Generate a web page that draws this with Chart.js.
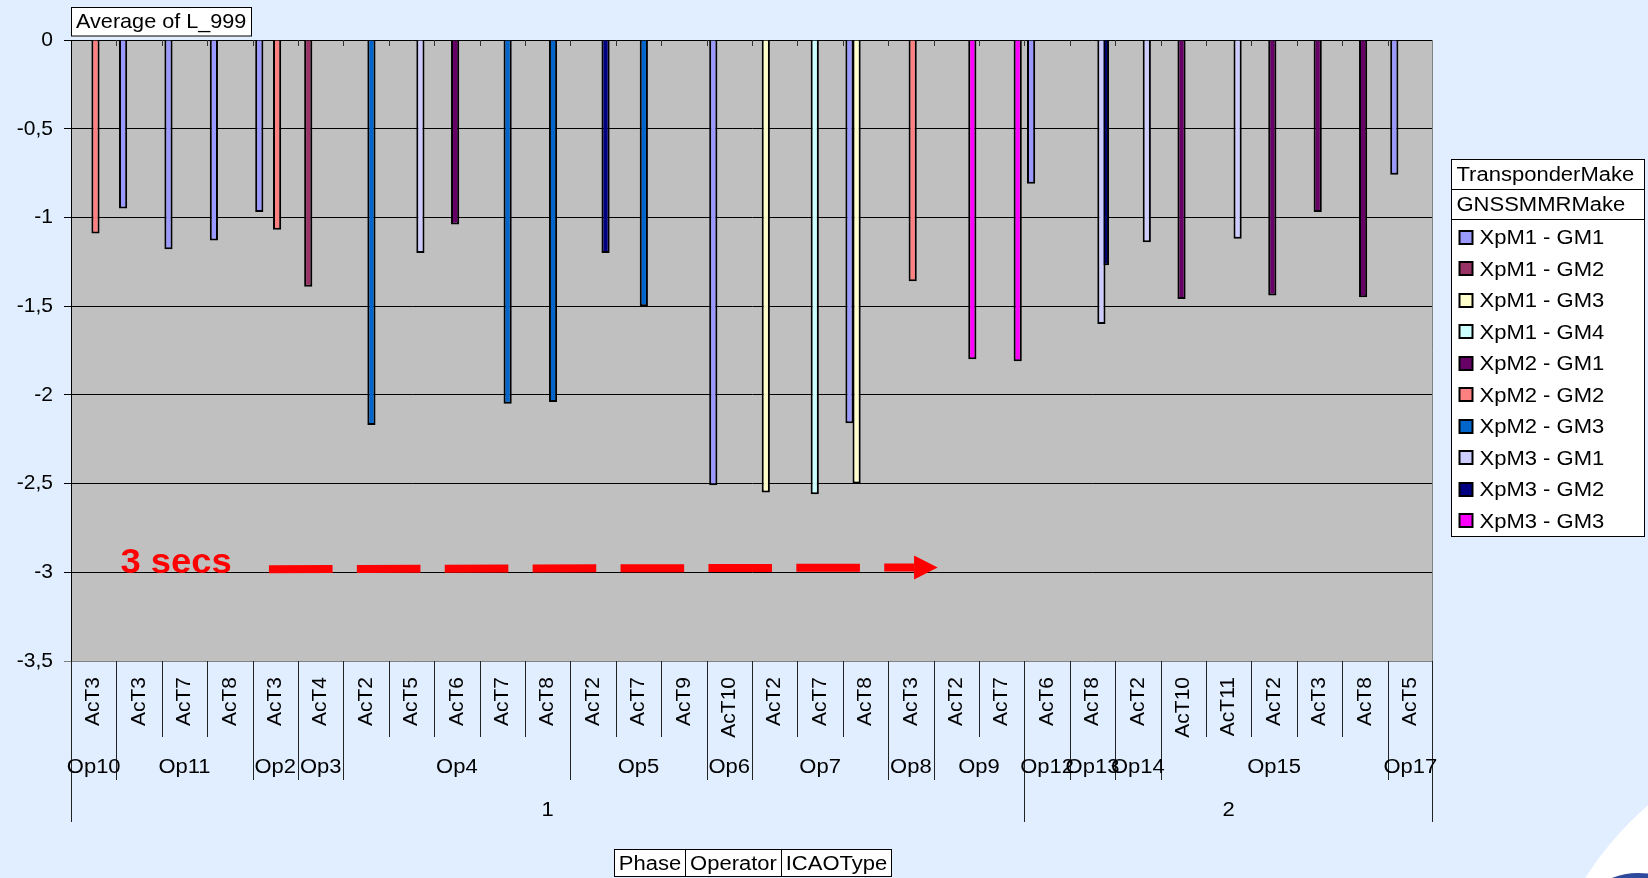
<!DOCTYPE html>
<html>
<head>
<meta charset="utf-8">
<script src="https://cdn.jsdelivr.net/npm/chart.js@4.4.1/dist/chart.umd.min.js"></script>
<style>
  html, body { margin: 0; padding: 0; background: #E0EEFF; overflow: hidden; }
  #wrap { position: relative; width: 1648px; height: 878px; overflow: hidden; }
  #swoosh { position: absolute; left: 1532px; top: 722px; width: 676px; height: 676px; border-radius: 50%; background: #FFFFFF; }
  #logo { position: absolute; left: 1603px; top: 873px; width: 70px; height: 30px; border-radius: 50% 50% 0 0; background: #2D4A9C; }
  canvas { position: absolute; left: 0; top: 0; }
</style>
</head>
<body>
<div id="wrap">
  <div id="swoosh"></div>
  <div id="logo"></div>
  <canvas id="c" width="1648" height="878"></canvas>
</div>
<script>
// ---------------- DATA ----------------
const phases = ['1','1','1','1','1','1','1','1','1','1','1','1','1','1','1','1','1','1','1','1','1',
                '2','2','2','2','2','2','2','2','2'];
const operators = ['Op10','Op11','Op11','Op11','Op2','Op3','Op4','Op4','Op4','Op4','Op4','Op5','Op5','Op5','Op6',
                   'Op7','Op7','Op7','Op8','Op9','Op9','Op12','Op13','Op14','Op15','Op15','Op15','Op15','Op15','Op17'];
const icaoTypes = ['AcT3','AcT3','AcT7','AcT8','AcT3','AcT4','AcT2','AcT5','AcT6','AcT7','AcT8','AcT2','AcT7','AcT9','AcT10',
                   'AcT2','AcT7','AcT8','AcT3','AcT2','AcT7','AcT6','AcT8','AcT2','AcT10','AcT11','AcT2','AcT3','AcT8','AcT5'];

const seriesNames = ['XpM1 - GM1','XpM1 - GM2','XpM1 - GM3','XpM1 - GM4','XpM2 - GM1',
                     'XpM2 - GM2','XpM2 - GM3','XpM3 - GM1','XpM3 - GM2','XpM3 - GM3'];
const seriesColors = ['#9999FF','#993366','#FFFFCC','#CCFFFF','#660066',
                      '#FF8080','#0066CC','#CCCCFF','#000080','#FF00FF'];

//                 0     1      2      3      4      5     6     7     8     9     10    11    12    13    14     15     16     17     18     19     20     21     22     23     24     25     26     27     28     29
const xpm1_gm1 = [null, -0.95, -1.18, -1.13, -0.97, null, null, null, null, null, null, null, null, null, -2.51, null,  null,  -2.16, null,  null,  null,  -0.81, null,  null,  null,  null,  null,  null,  null,  -0.76];
const xpm1_gm2 = [null, null,  null,  null,  null, -1.39, null, null, null, null, null, null, null, null, null,  null,  null,  null,  null,  null,  null,  null,  null,  null,  null,  null,  null,  null,  null,  null];
const xpm1_gm3 = [null, null,  null,  null,  null,  null, null, null, null, null, null, null, null, null, null,  -2.55, null,  -2.50, null,  null,  null,  null,  null,  null,  null,  null,  null,  null,  null,  null];
const xpm1_gm4 = [null, null,  null,  null,  null,  null, null, null, null, null, null, null, null, null, null,  null,  -2.56, null,  null,  null,  null,  null,  null,  null,  null,  null,  null,  null,  null,  null];
const xpm2_gm1 = [null, null,  null,  null,  null,  null, null, null, -1.04, null, null, null, null, null, null, null,  null,  null,  null,  null,  null,  null,  null,  null,  -1.46, null,  -1.44, -0.97, -1.45, null];
const xpm2_gm2 = [-1.09, null, null,  null,  -1.07, null, null, null, null, null, null, null, null, null, null,  null,  null,  null,  -1.36, null,  null,  null,  null,  null,  null,  null,  null,  null,  null,  null];
const xpm2_gm3 = [null, null,  null,  null,  null,  null, -2.17, null, null, -2.05, -2.04, null, -1.50, null, null, null, null,  null,  null,  null,  null,  null,  null,  null,  null,  null,  null,  null,  null,  null];
const xpm3_gm1 = [null, null,  null,  null,  null,  null, null, -1.20, null, null, null, null, null, null, null,  null,  null,  null,  null,  null,  null,  null,  -1.60, -1.14, null,  -1.12, null,  null,  null,  null];
const xpm3_gm2 = [null, null,  null,  null,  null,  null, null, null, null, null, null, -1.20, null, null, null, null,  null,  null,  null,  null,  null,  null,  -1.27, null,  null,  null,  null,  null,  null,  null];
const xpm3_gm3 = [null, null,  null,  null,  null,  null, null, null, null, null, null, null, null, null, null,  null,  null,  null,  null,  -1.80, -1.81, null,  null,  null,  null,  null,  null,  null,  null,  null];

const seriesValues = [xpm1_gm1, xpm1_gm2, xpm1_gm3, xpm1_gm4, xpm2_gm1, xpm2_gm2, xpm2_gm3, xpm3_gm1, xpm3_gm2, xpm3_gm3];

const yMin = -3.5, yMax = 0, yStep = 0.5;
const valueTitle = 'Average of L_999';
const legendHeaders = ['TransponderMake', 'GNSSMMRMake'];
const axisFields = ['Phase', 'Operator', 'ICAOType'];
const thresholdText = '3 secs';
const thresholdValue = -3;

// ---------------- CHART ----------------
const FONT = "'Liberation Sans', Arial, sans-serif";
const SX = 1.1; // horizontal stretch of the original rendering
Chart.defaults.font.family = FONT;
Chart.defaults.color = '#000';

const datasets = seriesNames.map((name, i) => ({
  label: name,
  data: seriesValues[i],
  backgroundColor: seriesColors[i],
  borderColor: '#000',
  borderWidth: 2,
  borderSkipped: 'start'
}));

const plotBg = {
  id: 'plotBg',
  beforeDraw(chart) {
    const { ctx, chartArea: a } = chart;
    ctx.save();
    ctx.fillStyle = '#C0C0C0';
    ctx.fillRect(a.left, a.top, a.right - a.left, a.bottom - a.top);
    ctx.restore();
  }
};

function sText(ctx, text, x, y, align, sx) {
  ctx.save();
  ctx.translate(x, y);
  ctx.scale(sx || SX, 1);
  ctx.textAlign = align;
  ctx.fillText(text, 0, 0);
  ctx.restore();
}
function sWidth(ctx, text, sx) { return ctx.measureText(text).width * (sx || SX); }

function whiteBox(ctx, x, y, w, h) {
  ctx.fillStyle = '#FFFFFF';
  ctx.fillRect(x, y, w, h);
  ctx.strokeStyle = '#000';
  ctx.lineWidth = 1;
  ctx.strokeRect(x, y, w, h);
}

const decorations = {
  id: 'decorations',
  afterDatasetsDraw(chart) {
    const { ctx, scales: { x, y } } = chart;
    ctx.save();
    const x0 = x.getPixelForValue(3.86), x1 = x.getPixelForValue(18.07), xt = x.getPixelForValue(18.59);
    const y0 = y.getPixelForValue(thresholdValue + 0.017), y1 = y.getPixelForValue(thresholdValue + 0.027);
    ctx.strokeStyle = '#FF0000';
    ctx.fillStyle = '#FF0000';
    ctx.lineWidth = 8;
    ctx.lineCap = 'butt';
    ctx.setLineDash([63.6, 24.3]);
    ctx.beginPath();
    ctx.moveTo(x0, y0);
    ctx.lineTo(x1, y1);
    ctx.stroke();
    ctx.setLineDash([]);
    ctx.beginPath();
    ctx.moveTo(x1, y1 - 12);
    ctx.lineTo(xt, y1);
    ctx.lineTo(x1, y1 + 12);
    ctx.closePath();
    ctx.fill();
    ctx.font = 'bold 35px ' + FONT;
    ctx.textBaseline = 'alphabetic';
    sText(ctx, thresholdText, x.getPixelForValue(0.59), y.getPixelForValue(thresholdValue) + 1, 'left', 1.04);
    ctx.restore();
  },
  afterDraw(chart) {
    const { ctx, chartArea: a, scales: { x, y } } = chart;
    const n = icaoTypes.length;
    const bx = k => Math.round(x.getPixelForValue(k - 0.5)) + 0.5;
    ctx.save();
    // right border of plot
    ctx.strokeStyle = '#808080';
    ctx.lineWidth = 1;
    ctx.beginPath();
    ctx.moveTo(Math.round(a.right) - 0.5, a.top);
    ctx.lineTo(Math.round(a.right) - 0.5, a.bottom);
    ctx.stroke();
    // category tick marks on the axis at value 0
    const y0 = Math.round(y.getPixelForValue(0));
    ctx.strokeStyle = '#333';
    ctx.beginPath();
    for (let k = 1; k < n; k++) {
      ctx.moveTo(bx(k), y0);
      ctx.lineTo(bx(k), y0 + 6);
    }
    ctx.stroke();
    // multi-level separators
    const bottom = a.bottom;
    ctx.strokeStyle = '#222';
    ctx.beginPath();
    for (let k = 0; k <= n; k++) {
      const phaseBreak = k === 0 || k === n || phases[k] !== phases[k - 1];
      const opBreak = phaseBreak || operators[k] !== operators[k - 1];
      const len = phaseBreak ? 161 : (opBreak ? 119 : 76);
      const px = k === n ? Math.round(a.right) - 0.5 : bx(k);
      ctx.moveTo(px, bottom);
      ctx.lineTo(px, bottom + len);
    }
    ctx.stroke();
    // operator labels
    ctx.fillStyle = '#000';
    ctx.font = '20px ' + FONT;
    ctx.textBaseline = 'middle';
    let s = 0;
    for (let k = 1; k <= n; k++) {
      if (k === n || operators[k] !== operators[s] || phases[k] !== phases[s]) {
        const cx = (x.getPixelForValue(s - 0.5) + x.getPixelForValue(k - 0.5)) / 2;
        sText(ctx, operators[s], cx, bottom + 106, 'center');
        s = k;
      }
    }
    // phase labels
    s = 0;
    for (let k = 1; k <= n; k++) {
      if (k === n || phases[k] !== phases[s]) {
        const cx = (x.getPixelForValue(s - 0.5) + x.getPixelForValue(k - 0.5)) / 2;
        sText(ctx, phases[s], cx, bottom + 149, 'center');
        s = k;
      }
    }
    // value field title box
    ctx.font = '21px ' + FONT;
    const tw = sWidth(ctx, valueTitle, 1.03);
    whiteBox(ctx, Math.round(a.left) + 0.5, 7.5, Math.round(tw + 10), 28.5);
    ctx.fillStyle = '#000';
    sText(ctx, valueTitle, a.left + 5, 22.5, 'left', 1.03);
    ctx.font = '20px ' + FONT;
    // axis field buttons
    const widths = axisFields.map(t => Math.round(sWidth(ctx, t) + 9));
    const total = widths.reduce((p, c) => p + c, 0);
    let fx = Math.round((a.left + a.right) / 2 - total / 2) + 0.5;
    axisFields.forEach((t, i) => {
      whiteBox(ctx, fx, 849.5, widths[i], 27);
      ctx.fillStyle = '#000';
      sText(ctx, t, fx + widths[i] / 2, 864, 'center');
      fx += widths[i];
    });
    // legend
    const lx = Math.round(a.right) + 18.5, ly = 159.5, lw = 193, rowH = 30, itemH = 31.5;
    const lh = rowH * 2 + 10 * itemH + 2;
    ctx.fillStyle = '#FFFFFF';
    ctx.fillRect(lx, ly, lw, lh);
    ctx.strokeStyle = '#000';
    ctx.lineWidth = 1;
    ctx.strokeRect(lx, ly, lw, lh);
    ctx.beginPath();
    ctx.moveTo(lx, ly + rowH); ctx.lineTo(lx + lw, ly + rowH);
    ctx.moveTo(lx, ly + 2 * rowH); ctx.lineTo(lx + lw, ly + 2 * rowH);
    ctx.stroke();
    ctx.fillStyle = '#000';
    sText(ctx, legendHeaders[0], lx + 5, ly + rowH / 2 + 1, 'left');
    sText(ctx, legendHeaders[1], lx + 5, ly + rowH * 1.5 + 1, 'left');
    chart.data.datasets.forEach((ds, i) => {
      const cy = ly + 2 * rowH + 18 + i * itemH;
      ctx.fillStyle = ds.backgroundColor;
      ctx.fillRect(lx + 8, Math.round(cy - 7), 13, 13);
      ctx.lineWidth = 2;
      ctx.strokeStyle = '#000';
      ctx.strokeRect(lx + 8, Math.round(cy - 7), 13, 13);
      ctx.fillStyle = '#000';
      sText(ctx, ds.label, lx + 28, cy + 1, 'left');
    });
    ctx.restore();
  }
};

new Chart(document.getElementById('c'), {
  type: 'bar',
  data: { labels: icaoTypes, datasets },
  options: {
    responsive: false,
    animation: false,
    devicePixelRatio: 1,
    layout: { padding: { top: 40, right: 215, left: 0, bottom: 0 } },
    plugins: { legend: { display: false }, tooltip: { enabled: false } },
    datasets: { bar: { categoryPercentage: 0.784, barPercentage: 2.3 } },
    scales: {
      x: {
        type: 'category',
        offset: true,
        grid: { display: false, drawTicks: false },
        border: { display: false },
        ticks: { autoSkip: false, minRotation: 90, maxRotation: 90, padding: 16, color: '#000', font: { size: 21 } },
        afterFit(scale) { scale.height = 217; }
      },
      y: {
        min: yMin,
        max: yMax,
        ticks: {
          stepSize: yStep,
          padding: 11,
          color: '#000',
          font: { size: 21 },
          callback: v => String(Math.round(v * 10) / 10).replace('.', ',')
        },
        grid: {
          color: c => (c.tick && c.tick.value === yMin) ? '#808080' : '#000',
          tickLength: 7,
          lineWidth: 1
        },
        border: { color: '#000' },
        afterFit(scale) { scale.width = 71; }
      }
    }
  },
  plugins: [plotBg, decorations]
});
</script>
</body>
</html>
